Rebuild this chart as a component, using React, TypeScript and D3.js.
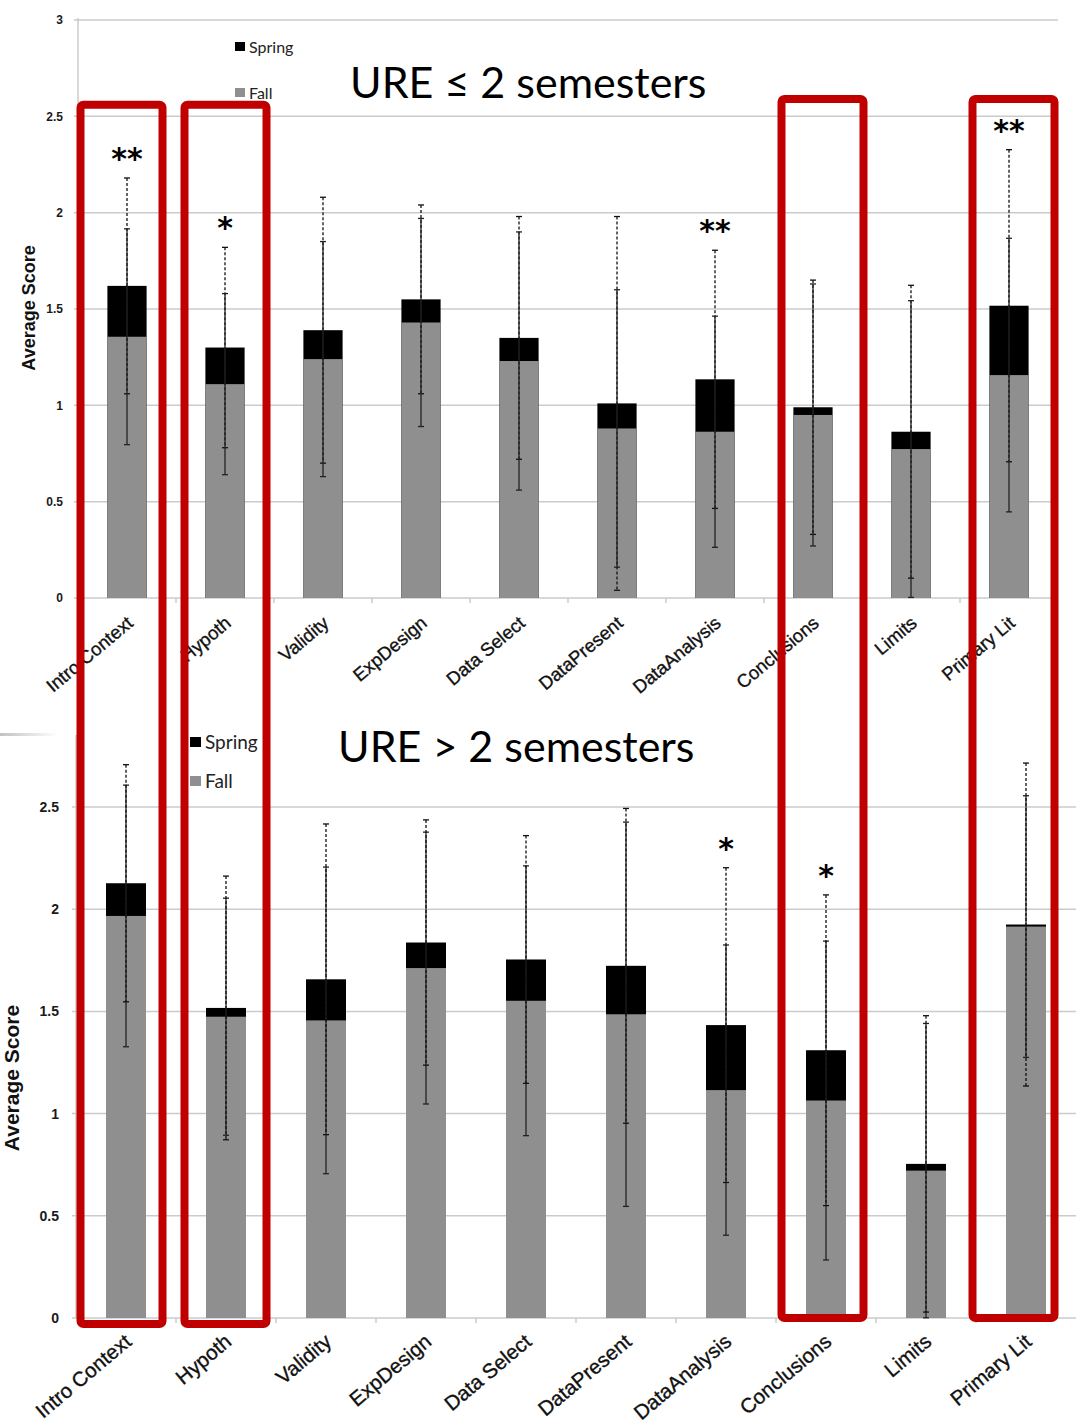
import React from 'react';
import * as d3 from 'd3';

const categories = ['Intro Context', 'Hypoth', 'Validity', 'ExpDesign', 'Data Select', 'DataPresent', 'DataAnalysis', 'Conclusions', 'Limits', 'Primary Lit'];
const seriesNames = ['Spring', 'Fall'];

// URE <= 2 semesters
const lowSpring = [1.62, 1.30, 1.39, 1.55, 1.35, 1.01, 1.135, 0.99, 0.863, 1.517];
const lowFall = [1.356, 1.11, 1.24, 1.43, 1.23, 0.88, 0.863, 0.95, 0.773, 1.157];
const lowSpringErr = [0.56, 0.52, 0.69, 0.49, 0.63, 0.97, 0.67, 0.66, 0.76, 0.81];
const lowFallErr = [0.56, 0.47, 0.61, 0.54, 0.67, 0.72, 0.60, 0.68, 0.77, 0.71];
const lowStars = ['**', '*', '', '', '', '', '**', '', '', '**'];
const lowTicks = [0, 0.5, 1, 1.5, 2, 2.5, 3];

// URE > 2 semesters
const highSpring = [2.127, 1.517, 1.657, 1.837, 1.754, 1.723, 1.433, 1.31, 0.754, 1.925];
const highFall = [1.967, 1.474, 1.456, 1.712, 1.552, 1.486, 1.115, 1.064, 0.721, 1.915];
const highSpringErr = [0.58, 0.645, 0.76, 0.60, 0.606, 0.77, 0.77, 0.76, 0.725, 0.79];
const highFallErr = [0.64, 0.58, 0.75, 0.665, 0.66, 0.94, 0.71, 0.78, 0.72, 0.64];
const highStars = ['', '', '', '', '', '', '*', '*', '', ''];
const highTicks = [0, 0.5, 1, 1.5, 2, 2.5];

// red highlight boxes (hand drawn, so nudged a little off the bars)
const boxed = ['Intro Context', 'Hypoth', 'Conclusions', 'Primary Lit'];
const boxTopValue = [2.56, 2.56, 2.59, 2.59];
const boxNudge = [-5, 0, 3, -4];

const SPRING = '#000000';
const FALL = '#8f8f8f';
const GRID = '#cbcbcb';
const RED = '#c00000';

const top = {
  title: 'URE \u2264 2 semesters',
  spring: lowSpring, fall: lowFall, springErr: lowSpringErr, fallErr: lowFallErr, stars: lowStars,
  ticks: lowTicks, yMax: 3, zero: 598, yMaxPx: 20, axisTop: 18,
  x0: 78, x1: 1058, tickFont: 12, labelFont: 18.5, axisFont: 18, axisX: 35, axisY: 308,
  titleX: 350, titleY: 98, legendX: 235, legendY: [53, 99], legendFont: 16, legendBox: 10,
  labelDx: 3, labelDy: 22, dashedOnTop: false, tickX: 63,
};

const bottom = {
  title: 'URE > 2 semesters',
  spring: highSpring, fall: highFall, springErr: highSpringErr, fallErr: highFallErr, stars: highStars,
  ticks: highTicks, yMax: 2.5, zero: 1318, yMaxPx: 807, axisTop: 735,
  x0: 76, x1: 1076, tickFont: 14, labelFont: 20.5, axisFont: 21, axisX: 19, axisY: 1078,
  titleX: 338, titleY: 762, legendX: 190, legendY: [749, 788], legendFont: 19, legendBox: 11,
  labelDx: 2, labelDy: 20, dashedOnTop: true, tickX: 59,
};

function Panel({ p }: { p: any }) {
  const x = d3.scaleBand<string>().domain(categories).range([p.x0, p.x1]).paddingInner(0.6).paddingOuter(0.3);
  const y = d3.scaleLinear().domain([0, p.yMax]).range([p.zero, p.yMaxPx]);
  const bw = x.bandwidth();
  const cx = (c: string) => (x(c) as number) + bw / 2;
  const boundaries = d3.range(1, categories.length).map((i) => p.x0 + x.step() * i);

  const errBar = (c: string, v: number, e: number, dashed: boolean, key: string) => {
    const xc = cx(c);
    return (
      <g key={key} stroke={dashed ? '#111' : '#222'} strokeWidth={1.3}>
        <line x1={xc} x2={xc} y1={y(v + e)} y2={y(v - e)} strokeDasharray={dashed ? '3 2' : undefined} />
        <line x1={xc - 3} x2={xc + 3} y1={y(v + e)} y2={y(v + e)} />
        <line x1={xc - 3} x2={xc + 3} y1={y(v - e)} y2={y(v - e)} />
      </g>
    );
  };

  return (
    <g>
      {p.ticks.map((t: number) => (
        <g key={t}>
          <line x1={p.x0 - 4} x2={p.x1} y1={y(t)} y2={y(t)} stroke={GRID} strokeWidth={1.5} />
          <text x={p.tickX} y={y(t)} dy="0.35em" textAnchor="end" fontFamily="Liberation Sans, Arial, sans-serif"
            fontWeight="bold" fontSize={p.tickFont} fill="#1a1a1a">{t}</text>
        </g>
      ))}
      <line x1={p.x0} x2={p.x0} y1={p.axisTop} y2={p.zero} stroke={GRID} strokeWidth={1.5} />
      {boundaries.map((b: number) => (
        <line key={b} x1={b} x2={b} y1={p.zero} y2={p.zero + 5} stroke={GRID} strokeWidth={1.5} />
      ))}
      <text transform={`translate(${p.axisX},${p.axisY}) rotate(-90)`} textAnchor="middle"
        fontFamily="Liberation Sans, Arial, sans-serif" fontWeight="bold" fontSize={p.axisFont} fill="#111">Average Score</text>

      {categories.map((c, i) => (
        <rect key={'s' + c} x={x(c)} width={bw} y={y(p.spring[i])} height={p.zero - y(p.spring[i])} fill={SPRING} />
      ))}
      {categories.map((c, i) => (
        <rect key={'f' + c} x={x(c)} width={bw} y={y(p.fall[i])} height={p.zero - y(p.fall[i])} fill={FALL} />
      ))}
      {p.dashedOnTop
        ? categories.map((c, i) => errBar(c, p.fall[i], p.fallErr[i], false, 'fe' + c))
        : categories.map((c, i) => errBar(c, p.spring[i], p.springErr[i], true, 'se' + c))}
      {p.dashedOnTop
        ? categories.map((c, i) => errBar(c, p.spring[i], p.springErr[i], true, 'se' + c))
        : categories.map((c, i) => errBar(c, p.fall[i], p.fallErr[i], false, 'fe' + c))}

      {categories.map((c, i) => p.stars[i] ? (
        <text key={'st' + c} x={cx(c)} y={y(p.spring[i] + p.springErr[i]) - 9} textAnchor="middle"
          fontFamily="DejaVu Sans, sans-serif" fontWeight="bold" fontSize={30} fill="#000">{p.stars[i]}</text>
      ) : null)}

      {categories.map((c) => (
        <text key={'l' + c} transform={`translate(${cx(c) + p.labelDx},${p.zero + p.labelDy}) rotate(-40)`}
          textAnchor="end" dominantBaseline="central" fontFamily="Liberation Sans, Arial, sans-serif"
          fontSize={p.labelFont} fill="#111" stroke="#111" strokeWidth={0.35}>{c}</text>
      ))}

      {seriesNames.map((s, i) => (
        <g key={s}>
          <rect x={p.legendX} y={p.legendY[i] - p.legendBox - 1} width={p.legendBox} height={p.legendBox - 1}
            fill={i === 0 ? SPRING : FALL} />
          <text x={p.legendX + p.legendBox + 4} y={p.legendY[i]} fontFamily="Lato, sans-serif"
            fontSize={p.legendFont} fill="#222">{s}</text>
        </g>
      ))}

      <text x={p.titleX} y={p.titleY} fontFamily="Lato, sans-serif" fontSize={43} fill="#000">{p.title}</text>
    </g>
  );
}

export default function App() {
  const xt = d3.scaleBand<string>().domain(categories).range([top.x0, top.x1]).paddingInner(0.6).paddingOuter(0.3);
  const xb = d3.scaleBand<string>().domain(categories).range([bottom.x0, bottom.x1]).paddingInner(0.6).paddingOuter(0.3);
  const yt = d3.scaleLinear().domain([0, top.yMax]).range([top.zero, top.yMaxPx]);
  const yb = d3.scaleLinear().domain([0, bottom.yMax]).range([bottom.zero, bottom.yMaxPx]);

  return (
    <svg width={1084} height={1428} style={{ position: 'absolute', left: 0, top: 0, background: '#fff' }}>
      <defs>
        <linearGradient id="shade" x1="0" x2="1" y1="0" y2="0">
          <stop offset="0" stopColor="#bbb" stopOpacity={0.9} />
          <stop offset="1" stopColor="#bbb" stopOpacity={0} />
        </linearGradient>
      </defs>
      <rect x={0} y={733} width={58} height={3} fill="url(#shade)" />
      <Panel p={top} />
      <Panel p={bottom} />
      {boxed.map((c, i) => {
        const xc = ((xt(c) as number) + xt.bandwidth() / 2 + (xb(c) as number) + xb.bandwidth() / 2) / 2 + boxNudge[i];
        const y0 = yt(boxTopValue[i]);
        const y1 = yb(0) + (i < 2 ? 6 : 0);
        return <rect key={c} x={xc - 41} y={y0} width={82} height={y1 - y0} fill="none" stroke={RED} strokeWidth={8} rx={3} />;
      })}
    </svg>
  );
}
